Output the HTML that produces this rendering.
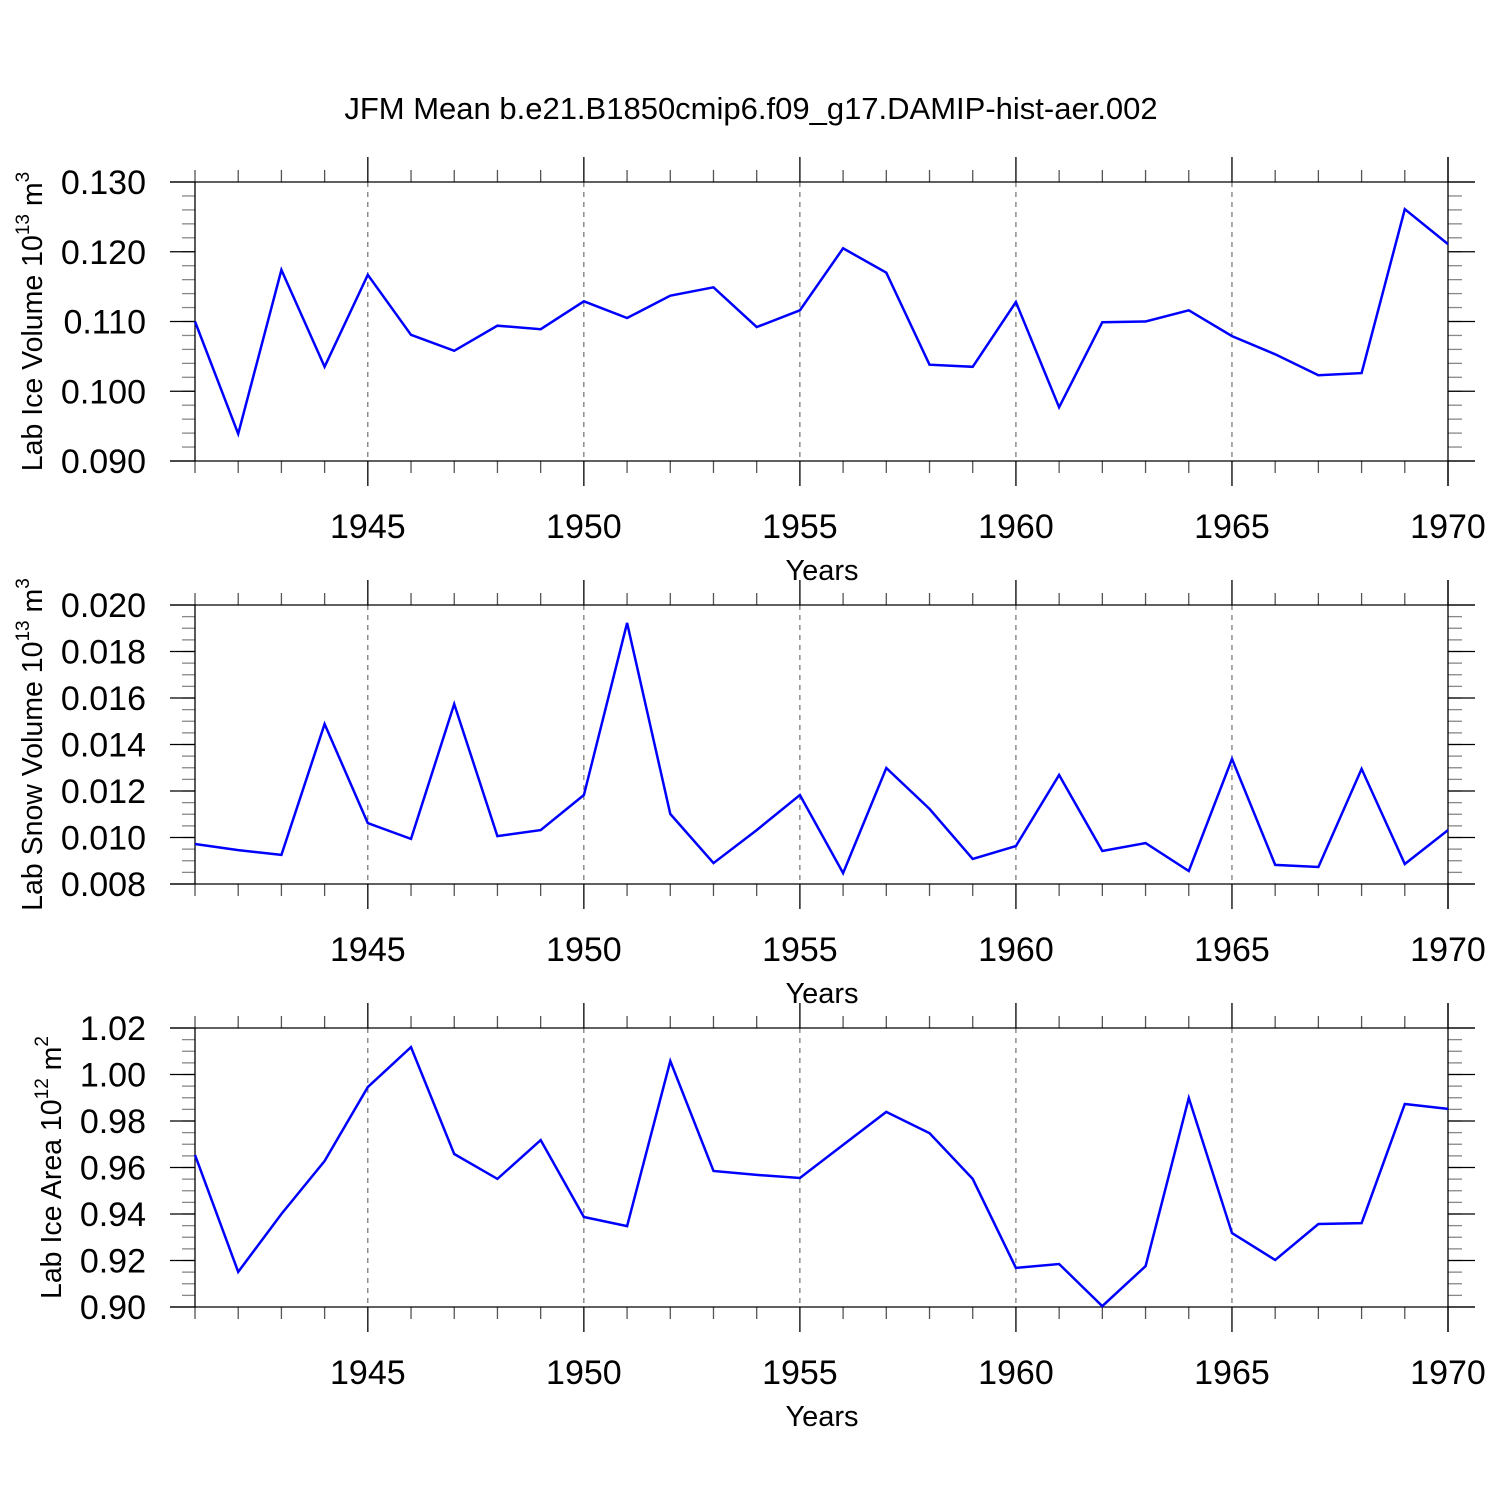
<!DOCTYPE html>
<html><head><meta charset="utf-8"><style>
html,body{margin:0;padding:0;background:#fff;}
svg{display:block;font-family:"Liberation Sans",sans-serif;}
</style></head><body>
<svg id="chart" width="1500" height="1500" xmlns="http://www.w3.org/2000/svg">
<rect width="1500" height="1500" fill="#fff"/>
<text x="751" y="119" font-size="31" text-anchor="middle">JFM Mean b.e21.B1850cmip6.f09_g17.DAMIP-hist-aer.002</text>
</svg>
<script>
const years = [1941,1942,1943,1944,1945,1946,1947,1948,1949,1950,1951,1952,1953,1954,1955,1956,1957,1958,1959,1960,1961,1962,1963,1964,1965,1966,1967,1968,1969,1970];
const iceVolume = [0.1100,0.0939,0.1174,0.1035,0.1167,0.1081,0.1058,0.1094,0.1089,0.1129,0.1105,0.1137,0.1149,0.1092,0.1116,0.1205,0.1170,0.1038,0.1035,0.1128,0.0977,0.1099,0.1100,0.1116,0.1079,0.1053,0.1023,0.1026,0.1261,0.1211];
const snowVolume = [0.00972,0.00946,0.00925,0.01488,0.01062,0.00994,0.01574,0.01006,0.01032,0.01183,0.01923,0.01101,0.00890,0.01032,0.01183,0.00847,0.01299,0.01123,0.00908,0.00963,0.01269,0.00942,0.00976,0.00856,0.01338,0.00882,0.00873,0.01295,0.00886,0.01032];
const iceArea = [0.9654,0.9151,0.9400,0.9628,0.9946,1.0118,0.9658,0.9551,0.9718,0.9387,0.9348,1.0058,0.9585,0.9568,0.9555,0.9697,0.9839,0.9748,0.9551,0.9168,0.9185,0.9004,0.9176,0.9899,0.9318,0.9202,0.9357,0.9361,0.9873,0.9852];
const xTicks = [1945,1950,1955,1960,1965,1970];
const iceVolTicks = [0.090,0.100,0.110,0.120,0.130];
const snowTicks = [0.008,0.010,0.012,0.014,0.016,0.018,0.020];
const areaTicks = [0.90,0.92,0.94,0.96,0.98,1.00,1.02];

const NS="http://www.w3.org/2000/svg";
const svg=document.getElementById('chart');
const X0=195,X1=1448,XMIN=1941,XMAX=1970;
function xs(v){return X0+(v-XMIN)/(XMAX-XMIN)*(X1-X0);}
function mk(tag,attrs,parent){const e=document.createElementNS(NS,tag);for(const k in attrs)e.setAttribute(k,attrs[k]);(parent||svg).appendChild(e);return e;}

function panel(name,top,data,ticks,minorStep,dec,titleParts){
  const bot=top+279, ymin=ticks[0], ymax=ticks[ticks.length-1];
  const g=mk('g',{});
  
  
  function ys(v){return bot-(v-ymin)/(ymax-ymin)*(bot-top);}
  xTicks.forEach(t=>{ if(t<XMAX){const l=mk('line',{x1:xs(t),x2:xs(t),y1:top,y2:bot,stroke:'#555','stroke-width':1,'stroke-dasharray':'5,5'},g);
    
    }});
  years.forEach(y=>{
    const major=xTicks.includes(y);
    const len=major?25:12;
    mk('line',{x1:xs(y),x2:xs(y),y1:top-len,y2:top,stroke:major?'#000':'#555','stroke-width':1.3},g);
    mk('line',{x1:xs(y),x2:xs(y),y1:bot,y2:bot+len,stroke:major?'#000':'#555','stroke-width':1.3},g);
  });
  const n=Math.round((ymax-ymin)/minorStep);
  for(let i=1;i<n;i++){const v=ymin+i*minorStep;const y=ys(v);
    mk('line',{x1:182,x2:X0,y1:y,y2:y,stroke:'#888','stroke-width':1.3},g);
    mk('line',{x1:X1,x2:1462,y1:y,y2:y,stroke:'#888','stroke-width':1.3},g);}
  ticks.forEach(t=>{const y=ys(t);
    mk('line',{x1:170,x2:X0,y1:y,y2:y,stroke:'#000','stroke-width':1.3},g);
    mk('line',{x1:X1,x2:1475,y1:y,y2:y,stroke:'#000','stroke-width':1.3},g);
    const tx=mk('text',{x:146,y:y+12,'font-size':34,'text-anchor':'end'},g);
    tx.textContent=t.toFixed(dec);
    
    
  });
  mk('line',{x1:170,x2:1475,y1:top,y2:top,stroke:'#000','stroke-width':1.3},g);
  mk('line',{x1:170,x2:1475,y1:bot,y2:bot,stroke:'#000','stroke-width':1.3},g);
  mk('line',{x1:X0,x2:X0,y1:top,y2:bot,stroke:'#000','stroke-width':1.3},g);
  mk('line',{x1:X1,x2:X1,y1:top-25,y2:bot+25,stroke:'#000','stroke-width':1.3},g);
  xTicks.forEach(t=>{const tx=mk('text',{x:xs(t),y:bot+77,'font-size':34,'text-anchor':'middle'},g);
    tx.textContent=t;
    
    });
  const xt=mk('text',{x:822,y:bot+119,'font-size':29,'text-anchor':'middle'},g);
  xt.textContent='Years';
  
  
  const yt=mk('text',{x:0,y:0,'font-size':28.5,'text-anchor':'middle',transform:`translate(${titleParts.x},${(top+bot)/2}) rotate(-90)`},g);
  
  
  const a=mk('tspan',{},yt);a.textContent=titleParts.main+' 10';
  const b=mk('tspan',{'font-size':19,dy:-13},yt);b.textContent=titleParts.exp;
  const c=mk('tspan',{dy:13},yt);c.textContent=' m';
  const d=mk('tspan',{'font-size':19,dy:-13},yt);d.textContent=titleParts.unitExp;
  const pts=data.map((v,i)=>xs(years[i]).toFixed(1)+','+ys(v).toFixed(1)).join(' ');
  const pl=mk('polyline',{points:pts,fill:'none',stroke:'#0000ff','stroke-width':2.5,'stroke-linejoin':'miter'},g);
  
  
}
panel('ice-volume',182,iceVolume,iceVolTicks,0.002,3,{x:42,main:'Lab Ice Volume',exp:'13',unitExp:'3'});
panel('snow-volume',605,snowVolume,snowTicks,0.0005,3,{x:42,main:'Lab Snow Volume',exp:'13',unitExp:'3'});
panel('ice-area',1028,iceArea,areaTicks,0.005,2,{x:61,main:'Lab Ice Area',exp:'12',unitExp:'2'});
</script>
</body></html>
